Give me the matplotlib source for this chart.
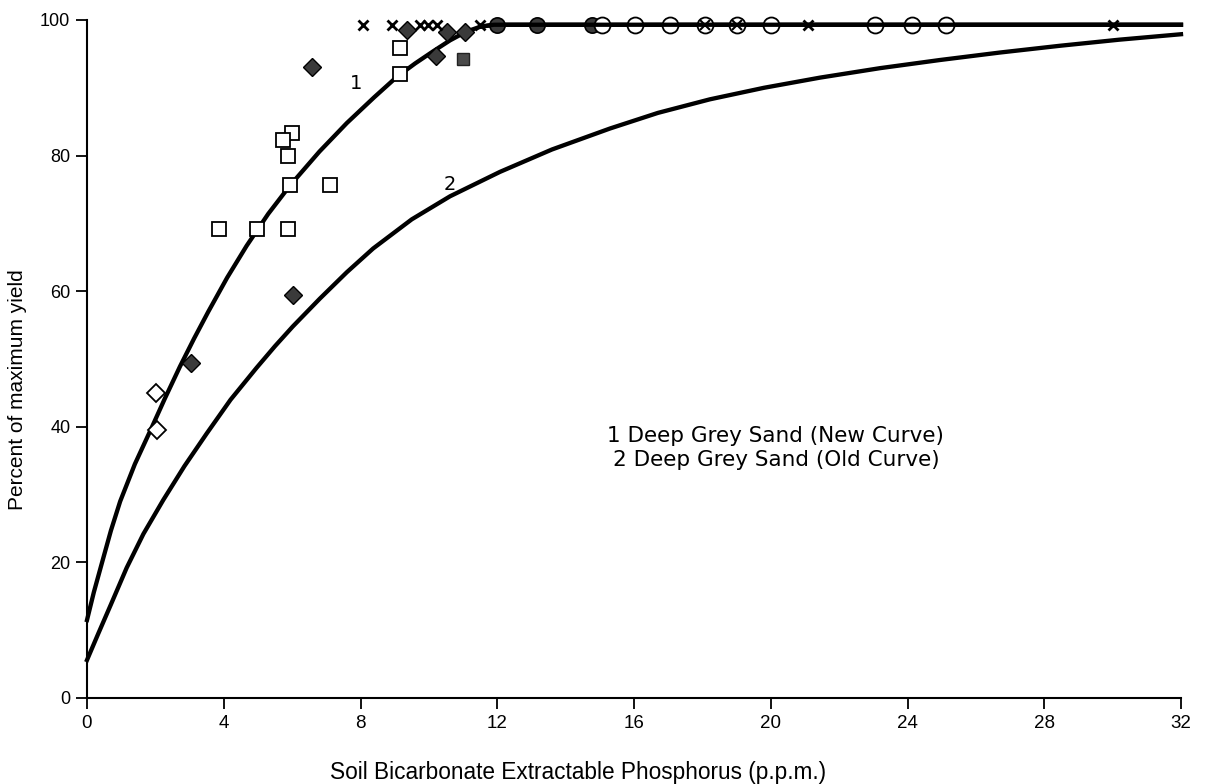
import matplotlib
matplotlib.use("Agg")
import matplotlib.pyplot as plt

# ---- data ----
curve1_x = [0.0, 0.2, 0.43, 0.7, 0.97, 1.4, 1.84, 2.28, 2.72, 3.13, 3.55, 4.1, 4.67, 5.3, 5.94,
            6.8, 7.6, 8.4, 9.06, 9.6, 10.13, 10.62, 11.1, 11.5, 11.9, 12.5, 32.0]
curve1_y = [11.5, 15.6, 19.8, 24.7, 29.0, 34.5, 39.3, 44.2, 48.9, 53.0, 57.0, 62.0, 66.7, 71.4, 75.6,
            80.6, 84.8, 88.6, 91.6, 93.6, 95.4, 97.0, 98.3, 99.0, 99.3, 99.3, 99.3]

curve2_x = [0.0, 0.33, 0.7, 1.16, 1.65, 2.23, 2.85, 3.5, 4.2, 4.96, 5.5, 6.02, 6.81, 7.6, 8.37, 9.5,
            10.62, 12.08, 13.6, 15.3, 16.7, 18.22, 19.8, 21.44, 23.2, 24.95, 26.7, 28.46, 30.2, 32.0]
curve2_y = [5.6, 9.5, 13.8, 19.2, 24.2, 29.2, 34.2, 39.0, 44.0, 48.7, 51.9, 54.8, 58.9, 62.8, 66.3, 70.6,
            74.0, 77.6, 80.9, 84.0, 86.3, 88.3, 90.0, 91.5, 92.9, 94.1, 95.2, 96.2, 97.1, 97.9]

open_sq_x = [9.15, 9.15, 5.99, 5.74, 5.87, 5.94, 7.11, 3.86, 4.96, 5.87]
open_sq_y = [95.8, 92.0, 83.4, 82.3, 80.0, 75.6, 75.6, 69.2, 69.2, 69.2]

open_dia_x = [2.02, 2.06]
open_dia_y = [45.0, 39.5]

fill_dia_x = [3.04, 6.03, 6.59, 10.21, 9.35, 10.52, 11.06]
fill_dia_y = [49.4, 59.4, 93.1, 94.7, 98.5, 98.2, 98.2]

fill_sq_x = [11.0]
fill_sq_y = [94.3]

cross_x = [8.06, 8.91, 9.74, 9.97, 10.23, 11.49, 21.09, 30.01]
cross_y = [99.3, 99.3, 99.3, 99.3, 99.3, 99.3, 99.3, 99.3]

fill_circ_x = [11.98, 13.15, 14.76]
fill_circ_y = [99.3, 99.3, 99.3]

open_circ_x = [15.05, 16.03, 17.05, 20.02, 23.05, 24.12, 25.12]
open_circ_y = [99.3, 99.3, 99.3, 99.3, 99.3, 99.3, 99.3]

xcirc_x = [18.07, 19.0]
xcirc_y = [99.3, 99.3]

x_ticks = [0, 4, 8, 12, 16, 20, 24, 28, 32]
y_ticks = [0, 20, 40, 60, 80, 100]

legend_lines = ["1 Deep Grey Sand (New Curve)", "2 Deep Grey Sand (Old Curve)"]

# ---- figure ----
plt.rcParams['font.family'] = ['Liberation Sans', 'DejaVu Sans']
fig = plt.figure(figsize=(12.17, 7.84), dpi=100)
ax = fig.add_axes([87/1217, 1-698/784, (1181-87)/1217, (698-20)/784])

LW = 3.1
ax.plot(curve1_x, curve1_y, color='black', lw=LW, solid_joinstyle='round', zorder=2, clip_on=False)
ax.plot(curve2_x, curve2_y, color='black', lw=LW, solid_joinstyle='round', zorder=2, clip_on=False)

ax.plot(open_sq_x, open_sq_y, ls='none', marker='s', ms=9.5, mfc='white', mec='black', mew=1.3, zorder=3, clip_on=False)
ax.plot(open_dia_x, open_dia_y, ls='none', marker='D', ms=9, mfc='white', mec='black', mew=1.3, zorder=3, clip_on=False)
ax.plot(fill_dia_x, fill_dia_y, ls='none', marker='D', ms=9, mfc='#3a3a3a', mec='black', mew=1.0, zorder=3, clip_on=False)
ax.plot(fill_sq_x, fill_sq_y, ls='none', marker='s', ms=9, mfc='#4a4a4a', mec='#222222', mew=1.0, zorder=3, clip_on=False)
ax.plot(cross_x, cross_y, ls='none', marker='x', ms=7, mec='black', mew=2.0, zorder=3, clip_on=False)
ax.plot(fill_circ_x, fill_circ_y, ls='none', marker='o', ms=11, mfc='#3a3a3a', mec='black', mew=1.2, zorder=3, clip_on=False)
ax.plot(open_circ_x, open_circ_y, ls='none', marker='o', ms=11.5, mfc='white', mec='black', mew=1.3, zorder=3, clip_on=False)
ax.plot(xcirc_x, xcirc_y, ls='none', marker='o', ms=11.5, mfc='white', mec='black', mew=1.3, zorder=3, clip_on=False)
ax.plot(xcirc_x, xcirc_y, ls='none', marker='x', ms=7, mec='black', mew=1.5, zorder=4, clip_on=False)
# the flat part of curve 1 runs through the open circles
ax.plot(curve1_x[23:], curve1_y[23:], color='black', lw=LW, zorder=3.5, clip_on=False)

ax.text(7.87, 90.6, "1", fontsize=14, ha='center', va='center', family='DejaVu Sans')
ax.text(10.62, 75.8, "2", fontsize=14, ha='center', va='center', family='DejaVu Sans')

ax.text(20.15, 38.6, legend_lines[0], fontsize=15.5, ha='center', va='center', family='DejaVu Sans')
ax.text(20.15, 35.1, legend_lines[1], fontsize=15.5, ha='center', va='center', family='DejaVu Sans')

ax.set_xlim(0, 32)
ax.set_ylim(0, 100)
ax.set_xticks(x_ticks)
ax.set_yticks(y_ticks)
ax.set_xticklabels([str(t) for t in x_ticks], fontsize=13.5)
ax.set_yticklabels([str(t) for t in y_ticks], fontsize=13)
ax.tick_params(axis='both', direction='out', length=8, width=1.3, color='black', pad=4)

for s in ['top', 'right']:
    ax.spines[s].set_visible(False)
for s in ['left', 'bottom']:
    ax.spines[s].set_linewidth(1.5)

fig.text(578/1217, 1-772/784, "Soil Bicarbonate Extractable Phosphorus (p.p.m.)", fontsize=16.3,
         ha='center', va='center')
fig.text(18/1217, 1-390/784, "Percent of maximum yield", fontsize=15, rotation=90,
         ha='center', va='center')

fig.savefig("out.png", dpi=100)
